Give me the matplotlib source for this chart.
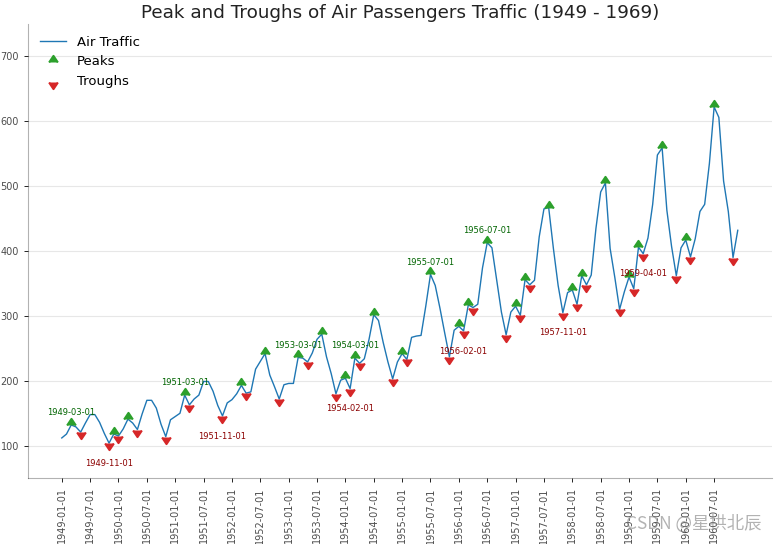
import matplotlib as mpl
import matplotlib.pyplot as plt
import numpy as np
import pandas as pd

# monthly air passengers (thousands), 1949 - 1960
y1949 = [112, 118, 132, 129, 121, 135, 148, 148, 136, 119, 104, 118]
y1950 = [115, 126, 141, 135, 125, 149, 170, 170, 158, 133, 114, 140]
y1951 = [145, 150, 178, 163, 172, 178, 199, 199, 184, 162, 146, 166]
y1952 = [171, 180, 193, 181, 183, 218, 230, 242, 209, 191, 172, 194]
y1953 = [196, 196, 236, 235, 229, 243, 264, 272, 237, 211, 180, 201]
y1954 = [204, 188, 235, 227, 234, 264, 302, 293, 259, 229, 203, 229]
y1955 = [242, 233, 267, 269, 270, 315, 364, 347, 312, 274, 237, 278]
y1956 = [284, 277, 317, 313, 318, 374, 413, 405, 355, 306, 271, 306]
y1957 = [315, 301, 356, 348, 355, 422, 465, 467, 404, 347, 305, 336]
y1958 = [340, 318, 362, 348, 363, 435, 491, 505, 404, 359, 310, 337]
y1959 = [360, 342, 406, 396, 420, 472, 548, 559, 463, 407, 362, 405]
y1960 = [417, 391, 419, 461, 472, 535, 622, 606, 508, 461, 390, 432]

values = (y1949 + y1950 + y1951 + y1952 + y1953 + y1954 +
          y1955 + y1956 + y1957 + y1958 + y1959 + y1960)
dates = pd.date_range('1949-01-01', periods=len(values), freq='MS').strftime('%Y-%m-%d').tolist()
df = pd.DataFrame({'date': dates, 'value': values})

# peaks and troughs
data = df['value'].values
doublediff = np.diff(np.sign(np.diff(data)))
peak_locations = np.where(doublediff == -2)[0] + 1
doublediff2 = np.diff(np.sign(np.diff(-1 * data)))
trough_locations = np.where(doublediff2 == -2)[0] + 1

fig = plt.figure(figsize=(7.77, 5.44), dpi=100)
ax = plt.gca()
ax.plot(df.index, df.value, color='tab:blue', lw=1.0, label='Air Traffic')
ax.scatter(peak_locations, df.value[peak_locations], marker=mpl.markers.CARETUPBASE,
           color='tab:green', s=40, label='Peaks', zorder=3)
ax.scatter(trough_locations, df.value[trough_locations], marker=mpl.markers.CARETDOWNBASE,
           color='tab:red', s=40, label='Troughs', zorder=3)

for t, p in zip(trough_locations[1::5], peak_locations[::3]):
    ax.text(p, df.value[p] + 15, df.date[p], ha='center', color='darkgreen', fontsize=6)
    ax.text(t, df.value[t] - 35, df.date[t], ha='center', color='darkred', fontsize=6)

ax.set_ylim(50, 750)
ax.set_xticks(df.index[::6])
ax.set_xticklabels(df.date[::6], rotation=90, fontsize=7, alpha=.7)
plt.yticks(fontsize=7, alpha=.7)
ax.set_title("Peak and Troughs of Air Passengers Traffic (1949 - 1969)",
             fontsize=13.2, color='#222222', pad=4)

ax.spines["top"].set_alpha(.0)
ax.spines["bottom"].set_alpha(.3)
ax.spines["right"].set_alpha(.0)
ax.spines["left"].set_alpha(.3)
ax.tick_params(width=0.6, length=3)

ax.legend(loc='upper left', fontsize=9.5, frameon=False)
ax.grid(axis='y', alpha=.3)

plt.subplots_adjust(left=0.036, right=0.993, top=0.956, bottom=0.121)
fig.text(0.98, 0.02, 'CSDN @星拱北辰', ha='right', va='bottom', fontsize=12.5,
         color='gray', alpha=0.6, family=['Noto Sans CJK SC', 'DejaVu Sans'])
plt.savefig('out.png', dpi=100)
